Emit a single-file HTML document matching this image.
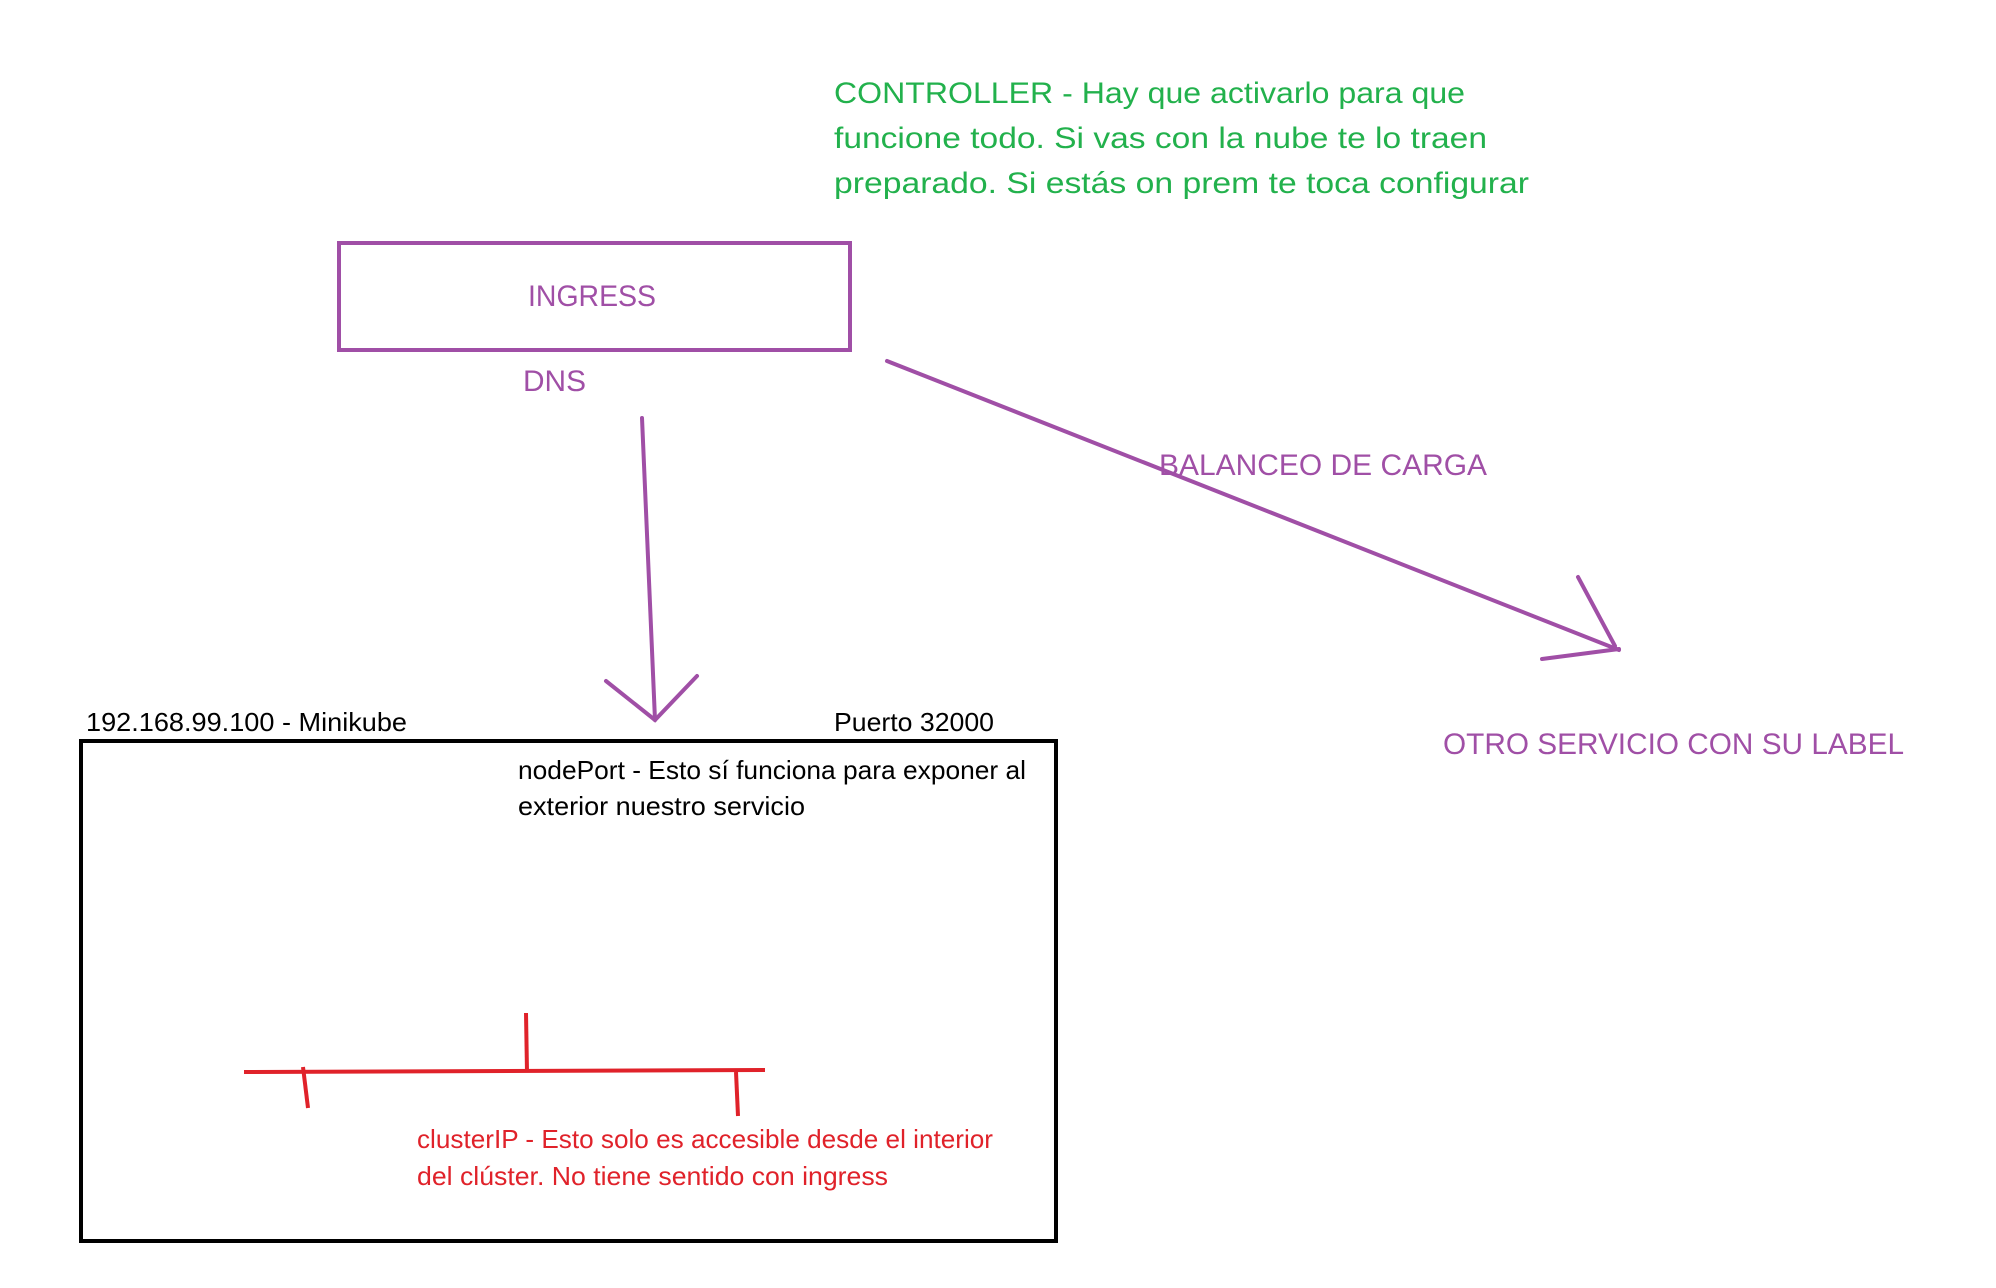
<!DOCTYPE html>
<html><head><meta charset="utf-8"><style>
html,body{margin:0;padding:0;background:#fff;}
svg{display:block;}
text{font-family:"Liberation Sans Narrow","Liberation Sans",sans-serif;}
</style></head><body>
<svg width="1996" height="1288" viewBox="0 0 1996 1288" xmlns="http://www.w3.org/2000/svg">
<rect width="1996" height="1288" fill="#fff"/>
<g fill="#22b14c" font-size="30">
<text x="834" y="103" textLength="631" lengthAdjust="spacingAndGlyphs">CONTROLLER - Hay que activarlo para que</text>
<text x="834" y="148" textLength="653" lengthAdjust="spacingAndGlyphs">funcione todo. Si vas con la nube te lo traen</text>
<text x="834" y="193" textLength="695" lengthAdjust="spacingAndGlyphs">preparado. Si estás on prem te toca configurar</text>
</g>
<rect x="339" y="243" width="511" height="107" fill="none" stroke="#a04fa6" stroke-width="4"/>
<g fill="#a04fa6" font-size="30">
<text x="528" y="306" textLength="128" lengthAdjust="spacingAndGlyphs">INGRESS</text>
<text x="523" y="391" textLength="63" lengthAdjust="spacingAndGlyphs">DNS</text>
<text x="1159" y="475" textLength="328" lengthAdjust="spacingAndGlyphs">BALANCEO DE CARGA</text>
<text x="1443" y="754" textLength="461" lengthAdjust="spacingAndGlyphs">OTRO SERVICIO CON SU LABEL</text>
</g>
<g stroke="#a04fa6" stroke-width="4" fill="none" stroke-linecap="round">
<path d="M642 418 L655 720"/>
<path d="M606 681 L655 720 L697 676"/>
<path d="M887 361 L1619 650"/>
<path d="M1578 577 L1615 646"/>
<path d="M1542 659 L1619 649"/>
</g>
<rect x="81" y="741" width="975" height="500" fill="none" stroke="#000" stroke-width="4"/>
<g fill="#000" font-size="26">
<text x="86" y="731" textLength="321" lengthAdjust="spacingAndGlyphs">192.168.99.100 - Minikube</text>
<text x="834" y="731" textLength="160" lengthAdjust="spacingAndGlyphs">Puerto 32000</text>
<text x="518" y="779" textLength="508" lengthAdjust="spacingAndGlyphs">nodePort - Esto sí funciona para exponer al</text>
<text x="518" y="815" textLength="287" lengthAdjust="spacingAndGlyphs">exterior nuestro servicio</text>
</g>
<g stroke="#e0222a" stroke-width="4" fill="none">
<path d="M244 1072 L765 1070"/>
<path d="M303 1067 L308 1108"/>
<path d="M526 1013 L527 1072"/>
<path d="M736 1072 L738 1116"/>
</g>
<g fill="#e0222a" font-size="26">
<text x="417" y="1148" textLength="576" lengthAdjust="spacingAndGlyphs">clusterIP - Esto solo es accesible desde el interior</text>
<text x="417" y="1185" textLength="471" lengthAdjust="spacingAndGlyphs">del clúster. No tiene sentido con ingress</text>
</g>
</svg>
</body></html>
